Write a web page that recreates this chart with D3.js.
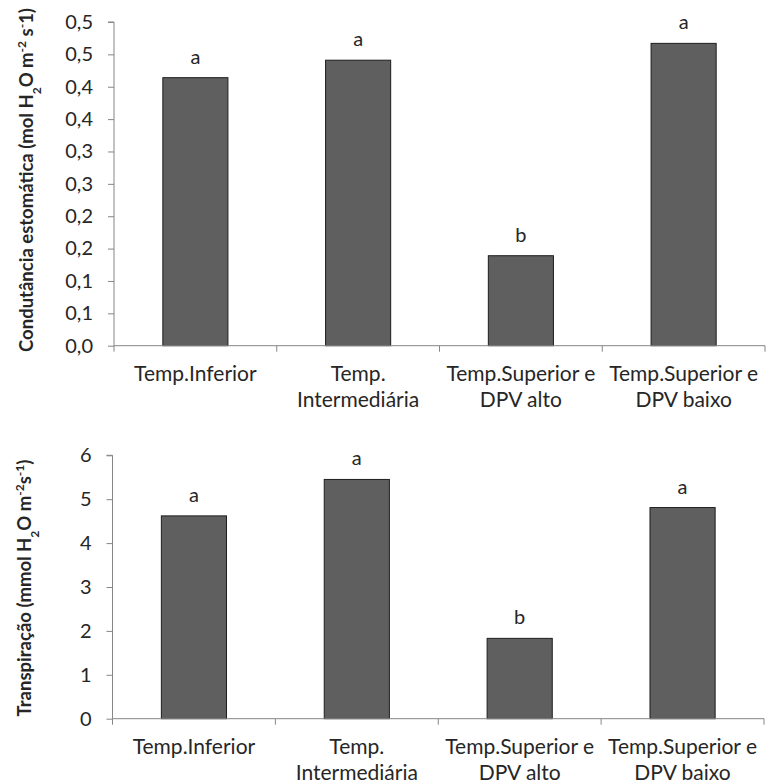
<!DOCTYPE html>
<html>
<head>
<meta charset="utf-8">
<script src="https://cdn.jsdelivr.net/npm/d3@7"></script>
<style>
  html, body { margin: 0; padding: 0; background: #ffffff; }
  svg { display: block; }
  text { font-family: Lato, "Open Sans", sans-serif; fill: #262626; }
</style>
</head>
<body>
<svg id="chart" width="766" height="783"></svg>
<script>
// Treatments (label lines per category)
const categories = [
  ["Temp.Inferior"],
  ["Temp.", "Intermediária"],
  ["Temp.Superior e", "DPV alto"],
  ["Temp.Superior e", "DPV baixo"]
];

// Stomatal conductance (mol H2O m-2 s-1)
const condutancia = [0.414, 0.441, 0.139, 0.467];
const letrasCondutancia = ["a", "a", "b", "a"];
const ticksCondutancia = [0, 0.05, 0.1, 0.15, 0.2, 0.25, 0.3, 0.35, 0.4, 0.45, 0.5];
const tickLabelsCondutancia = ["0,0", "0,1", "0,1", "0,2", "0,2", "0,3", "0,3", "0,4", "0,4", "0,5", "0,5"];

// Transpiration (mmol H2O m-2 s-1)
const transpiracao = [4.62, 5.45, 1.83, 4.81];
const letrasTranspiracao = ["a", "a", "b", "a"];
const ticksTranspiracao = [0, 1, 2, 3, 4, 5, 6];
const tickLabelsTranspiracao = ["0", "1", "2", "3", "4", "5", "6"];

const svg = d3.select("#chart");

function drawPanel(opts) {
  const g = svg.append("g");
  const x = d3.scaleBand()
    .domain(d3.range(categories.length))
    .range([opts.left, opts.right])
    .paddingInner(0.6)
    .paddingOuter(0.3);
  const xCat = d3.scaleBand()
    .domain(d3.range(categories.length))
    .range([opts.left, opts.right]);
  const y = d3.scaleLinear().domain(opts.domain).range([opts.bottom, opts.top]);

  // value axis
  const yAxis = d3.axisLeft(y)
    .tickValues(opts.ticks)
    .tickSize(6)
    .tickPadding(15)
    .tickFormat((d, i) => opts.tickLabels[i]);
  const ya = g.append("g")
    .attr("transform", `translate(${opts.left},0)`)
    .call(yAxis);
  ya.select(".domain").attr("stroke", "#868686").attr("d", `M-6,${y(opts.domain[1])}H0V${opts.bottom}`);
  ya.selectAll(".tick line").attr("stroke", "#868686");
  ya.selectAll(".tick text")
    .attr("font-family", "Lato, sans-serif")
    .attr("font-size", 20)
    .attr("fill", "#262626");

  // bars
  g.selectAll("rect.bar")
    .data(opts.values)
    .join("rect")
    .attr("class", "bar")
    .attr("x", (d, i) => x(i))
    .attr("width", x.bandwidth())
    .attr("y", d => y(d))
    .attr("height", d => y(0) - y(d))
    .attr("fill", "#5f5f5f")
    .attr("stroke", "#1e1e1e")
    .attr("stroke-width", 1);

  // significance letters
  g.selectAll("text.letter")
    .data(opts.values)
    .join("text")
    .attr("class", "letter")
    .attr("x", (d, i) => x(i) + x.bandwidth() / 2)
    .attr("y", d => y(d) - 14)
    .attr("text-anchor", "middle")
    .attr("font-size", 20)
    .text((d, i) => opts.letters[i]);

  // category axis
  g.append("line")
    .attr("x1", opts.left).attr("x2", opts.right)
    .attr("y1", y(0)).attr("y2", y(0))
    .attr("stroke", "#868686");
  const bounds = d3.range(categories.length).map(i => xCat(i)).concat([opts.right]);
  g.selectAll("line.cattick")
    .data(bounds)
    .join("line")
    .attr("class", "cattick")
    .attr("x1", d => d).attr("x2", d => d)
    .attr("y1", y(0)).attr("y2", y(0) + 6)
    .attr("stroke", "#868686");
  const labels = g.selectAll("text.cat")
    .data(categories)
    .join("text")
    .attr("class", "cat")
    .attr("text-anchor", "middle")
    .attr("font-size", 21)
    .attr("y", y(0) + 35);
  labels.selectAll("tspan")
    .data((d, i) => d.map(t => ({ t, i })))
    .join("tspan")
    .attr("x", d => xCat(d.i) + xCat.bandwidth() / 2)
    .attr("dy", (d, j) => j === 0 ? 0 : 26)
    .text(d => d.t);

  // rotated axis title
  const title = g.append("text")
    .attr("transform", `translate(${opts.titleX},${opts.titleY}) rotate(-90)`)
    .attr("text-anchor", "middle")
    .attr("font-weight", "bold")
    .attr("font-size", 18.5);
  opts.title.forEach(part => {
    const ts = title.append("tspan").text(part.t);
    if (part.shift) ts.attr("baseline-shift", part.shift).attr("font-size", 12);
  });
}

drawPanel({
  left: 114, right: 765, top: 22, bottom: 345.7,
  domain: [0, 0.5],
  values: condutancia,
  letters: letrasCondutancia,
  ticks: ticksCondutancia,
  tickLabels: tickLabelsCondutancia,
  titleX: 33, titleY: 180,
  title: [
    { t: "Condutância estomática (mol H" },
    { t: "2", shift: "sub" },
    { t: "O m" },
    { t: "-2", shift: "super" },
    { t: " s" },
    { t: "-", shift: "super" },
    { t: "1)" }
  ]
});

drawPanel({
  left: 112.5, right: 764, top: 455.3, bottom: 718.7,
  domain: [0, 6],
  values: transpiracao,
  letters: letrasTranspiracao,
  ticks: ticksTranspiracao,
  tickLabels: tickLabelsTranspiracao,
  titleX: 31, titleY: 588,
  title: [
    { t: "Transpiração (mmol H" },
    { t: "2", shift: "sub" },
    { t: "O m" },
    { t: "-2", shift: "super" },
    { t: "s" },
    { t: "-1", shift: "super" },
    { t: ")" }
  ]
});
</script>
</body>
</html>
